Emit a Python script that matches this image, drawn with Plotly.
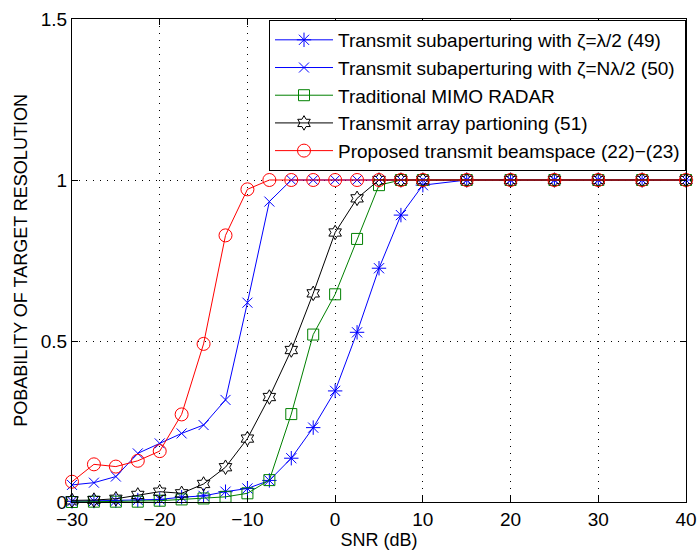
import plotly.graph_objects as go

# SNR sweep (dB)
snr = [-30, -27.5, -25, -22.5, -20, -17.5, -15, -12.5, -10, -7.5, -5, -2.5,
       0, 2.5, 5, 7.5, 10, 15, 20, 25, 30, 35, 40]

# Probability of target resolution for each method
sub_lambda = [0.002, 0.003, 0.004, 0.006, 0.008, 0.015, 0.019, 0.032, 0.042,
              0.067, 0.136, 0.231, 0.345, 0.527, 0.726, 0.891, 0.984,
              1, 1, 1, 1, 1, 1]
sub_nlambda = [0.053, 0.060, 0.079, 0.151, 0.182, 0.213, 0.239, 0.317, 0.619,
               0.933, 1, 1, 1, 1, 1, 1, 1,
               1, 1, 1, 1, 1, 1]
mimo = [0.0, 0.001, 0.001, 0.001, 0.004, 0.008, 0.011, 0.016, 0.027,
        0.068, 0.273, 0.520, 0.645, 0.817, 0.984, 1, 1,
        1, 1, 1, 1, 1, 1]
partition = [0.005, 0.006, 0.010, 0.022, 0.032, 0.027, 0.056, 0.108, 0.197,
             0.326, 0.472, 0.648, 0.837, 0.943, 1, 1, 1,
             1, 1, 1, 1, 1, 1]
beamspace = [0.063, 0.117, 0.110, 0.128, 0.158, 0.272, 0.491, 0.828, 0.971,
             1, 1, 1, 1, 1, 1, 1, 1,
             1, 1, 1, 1, 1, 1]

labels = [
    "Transmit subaperturing with ζ=λ/2 (49)",
    "Transmit subaperturing with ζ=Nλ/2 (50)",
    "Traditional MIMO RADAR",
    "Transmit array partioning (51)",
    "Proposed transmit beamspace (22)−(23)",
]
x_ticks = [-30, -20, -10, 0, 10, 20, 30, 40]
y_ticks = [0, 0.5, 1, 1.5]
y_ticktext = ["0", "0.5", "1", "1.5"]

series = [
    (sub_lambda, labels[0], "#0000FF", "asterisk-open", 12),
    (sub_nlambda, labels[1], "#0000FF", "x-thin-open", 10),
    (mimo, labels[2], "#008000", "square-open", 11),
    (partition, labels[3], "#000000", "hexagram-open", 11),
    (beamspace, labels[4], "#FF0000", "circle-open", 13),
]

FONT = "Liberation Sans, Arial, Helvetica, sans-serif"

fig = go.Figure()
for values, name, color, symbol, size in series:
    fig.add_trace(go.Scatter(
        x=snr, y=values, name=name, mode="lines+markers",
        line=dict(color=color, width=1),
        marker=dict(symbol=symbol, size=size, color=color,
                    line=dict(color=color, width=1)),
        cliponaxis=False,
    ))

axis_common = dict(
    showline=True, linecolor="black", linewidth=1, mirror="ticks",
    ticks="inside", ticklen=6, tickcolor="black",
    showgrid=True, gridcolor="black", gridwidth=1, griddash="1px,6px",
    zeroline=False, automargin=False,
    tickfont=dict(size=19, color="black", family=FONT),
)

fig.update_layout(
    width=700, height=557,
    margin=dict(l=72, r=14, t=19, b=55),
    paper_bgcolor="white", plot_bgcolor="white",
    font=dict(family=FONT, size=19, color="black"),
    xaxis=dict(range=[-30, 40], tickvals=x_ticks,
               title=dict(text="SNR (dB)", font=dict(size=18), standoff=4),
               **axis_common),
    yaxis=dict(range=[0, 1.5], tickvals=y_ticks, ticktext=y_ticktext,
               title=dict(text="POBABILITY OF TARGET RESOLUTION",
                          font=dict(size=18), standoff=8),
               **axis_common),
    legend=dict(x=1, xanchor="right", y=0.998, yanchor="top",
                bgcolor="white", bordercolor="black", borderwidth=1,
                font=dict(size=19, family=FONT), itemwidth=58,
                tracegroupgap=0),
    showlegend=True,
)

fig.write_html("out.html")
